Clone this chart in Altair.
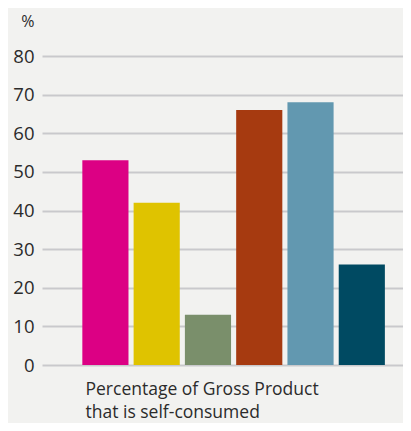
import altair as alt
import pandas as pd

categories = ["A", "B", "C", "D", "E", "F"]
values = [53, 42, 13, 66, 68, 26]
colors = ["#dc0084", "#dfc300", "#7a8f6b", "#a63a10", "#6298b0", "#004a62"]
y_ticks = [0, 10, 20, 30, 40, 50, 60, 70, 80]
x_title = ["Percentage of Gross Product", "that is self-consumed"]

df = pd.DataFrame({"cat": categories, "value": values})

FONT = "Open Sans"

chart = alt.Chart(df).mark_bar().encode(
    x=alt.X("cat:N", sort=categories,
            scale=alt.Scale(paddingInner=0.1, paddingOuter=0.57, align=0.69),
            axis=alt.Axis(labels=False, ticks=False, domain=False, grid=False,
                          title=x_title, titleFont=FONT, titleFontSize=17.5,
                          titleFontWeight="normal", titleColor="#2b2b2b",
                          titleAnchor="start", titleAlign="left",
                          titleBaseline="alphabetic", titleX=43, titleY=29,
                          titleLineHeight=23.5)),
    y=alt.Y("value:Q", scale=alt.Scale(domain=[0, 80], nice=False),
            axis=alt.Axis(values=y_ticks, ticks=False, domain=False,
                          labelFont=FONT, labelFontSize=18.5, labelColor="#2b2b2b",
                          labelPadding=8, gridColor="#c9c9cc", gridWidth=2,
                          title="%", titleFont=FONT, titleFontSize=16,
                          titleFontWeight="normal", titleColor="#2b2b2b",
                          titleAngle=0, titleAlign="right", titleBaseline="alphabetic",
                          titleX=-8, titleY=-30)),
    color=alt.Color("cat:N", sort=categories,
                    scale=alt.Scale(domain=categories, range=colors), legend=None),
).properties(
    width=361, height=309,
    autosize=alt.AutoSizeParams(type="none"),
    padding={"left": 34, "top": 48, "right": 0, "bottom": 58},
    background="#f2f2f0",
).configure_view(stroke=None)

chart.save("out.html", embed_options={"renderer": "svg", "actions": False})
